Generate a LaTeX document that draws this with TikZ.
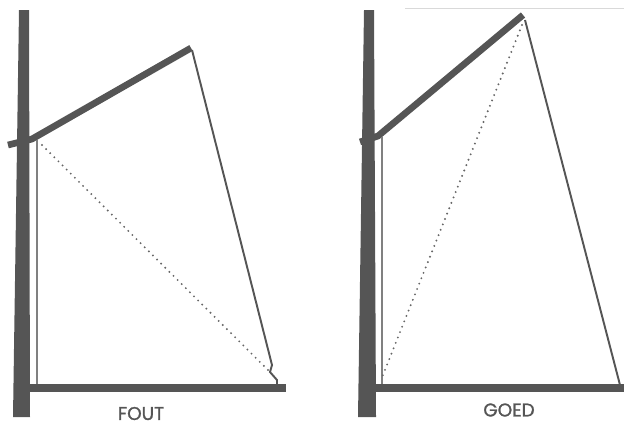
\documentclass[tikz,border=0pt]{standalone}
\usepackage{fontspec}
\setmainfont{Poppins}
\newfontfamily\capfont{Poppins}[FakeBold=1.2]
\usepackage{xcolor}
\definecolor{spar}{HTML}{555555}
\begin{document}
\begin{tikzpicture}[x=0.02cm,y=-0.02cm,
boom/.style={line width=3.8pt,color=spar},
foot/.style={line width=4.4pt,color=spar},
luff/.style={line width=1.4pt,color=gray},
leech/.style={line width=1.1pt,color=spar},
slack/.style={line width=1.2pt,color=spar!90,line cap=round,dash pattern=on 0pt off 3.3pt},
caption/.style={font=\capfont\fontsize{10.5}{12}\selectfont,text=spar,inner sep=0pt}]
\useasboundingbox(0,0)rectangle(624,424);
% FOUT
\fill[spar](19,10)--(29,10)--(30,417)--(13,417)--cycle;
\draw[boom](8,145)--(32,139)--(191,48);
\draw[foot](30,388)--(286,388);
\draw[luff](37,140)--(37,384);
\draw[leech](192,50)--(272,365)--(270,372)--(277,380)--(277,385);
\draw[slack](42,145)--(270,372);
\node[caption](fout)at(141,413.5){FOUT};
% GOED
\fill[spar](364,10)--(374,10)--(376,417)--(358,417)--cycle;
\draw[boom](360,142)--(378,136)--(523,15);
\draw[foot](376,388)--(624,388);
\draw[luff](382,137)--(382,384);
\draw[leech](525,20)--(620,385);
\draw[slack](522,25)--(381,380);
\draw[line width=0.8pt,color=gray!30](405,8.5)--(624,8.5);
\node[caption](goed)at(509,410){GOED};
\end{tikzpicture}
\end{document}
